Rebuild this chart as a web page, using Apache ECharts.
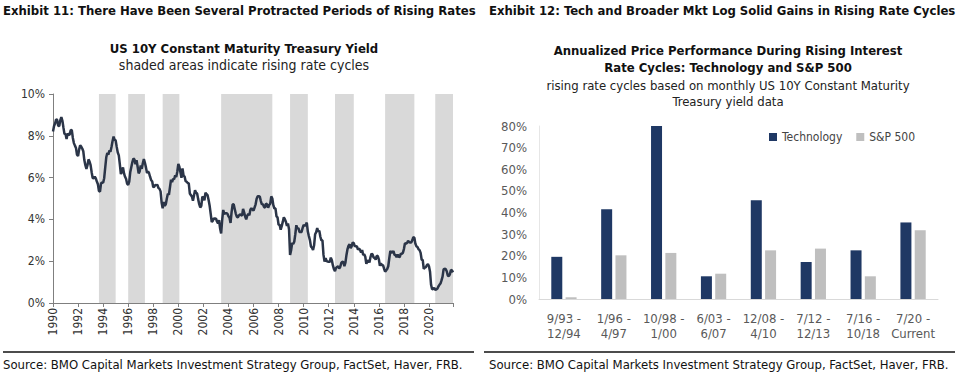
<!DOCTYPE html>
<html>
<head>
<meta charset="utf-8">
<script src="https://cdn.jsdelivr.net/npm/echarts@6/dist/echarts.min.js"></script>
<style>
html,body{margin:0;padding:0;background:#fff;}
#c{width:959px;height:376px;}
</style>
</head>
<body>
<div id="c"></div>
<script>
// ---------- DATA ----------
const yieldStartYear = 1990; // monthly values starting Jan 1990
const yieldMonthly = [
 8.21,8.47,8.59,8.79,8.76,8.48,8.47,8.75,8.89,8.72,8.39,8.08,
 8.09,7.85,8.11,8.04,8.07,8.28,8.27,7.90,7.65,7.53,7.42,7.09,
 7.03,7.34,7.54,7.48,7.39,7.26,6.84,6.59,6.42,6.59,6.87,6.77,
 6.60,6.26,5.98,5.97,6.04,5.96,5.81,5.68,5.36,5.33,5.72,5.77,
 5.75,5.97,6.48,6.97,7.18,7.10,7.30,7.24,7.46,7.74,7.96,7.81,
 7.78,7.47,7.20,7.06,6.63,6.17,6.28,6.49,6.20,6.04,5.93,5.71,
 5.65,5.81,6.27,6.51,6.74,6.91,6.87,6.64,6.83,6.53,6.20,6.30,
 6.58,6.42,6.69,6.89,6.71,6.49,6.22,6.30,6.21,6.03,5.88,5.81,
 5.54,5.57,5.65,5.64,5.65,5.50,5.46,5.34,4.81,4.53,4.83,4.65,
 4.72,5.00,5.23,5.18,5.54,5.90,5.79,5.94,5.92,6.11,6.03,6.28,
 6.66,6.52,6.26,5.99,6.44,6.10,6.05,5.83,5.80,5.74,5.72,5.24,
 5.16,5.10,4.89,5.14,5.39,5.28,5.24,4.97,4.73,4.57,4.65,5.09,
 5.04,4.91,5.28,5.21,5.16,4.93,4.65,4.26,3.87,3.94,4.05,4.03,
 4.05,3.90,3.81,3.96,3.57,3.33,3.98,4.45,4.27,4.29,4.30,4.27,
 4.15,4.08,3.83,4.35,4.72,4.73,4.50,4.28,4.13,4.10,4.19,4.23,
 4.22,4.17,4.50,4.34,4.14,4.00,4.18,4.26,4.20,4.46,4.54,4.47,
 4.42,4.57,4.72,4.99,5.11,5.11,5.09,4.88,4.72,4.73,4.60,4.56,
 4.76,4.72,4.56,4.69,4.75,5.10,5.00,4.67,4.52,4.53,4.15,4.10,
 3.74,3.74,3.51,3.68,3.88,4.10,4.01,3.89,3.69,3.81,3.53,2.30,
 2.52,2.87,2.82,2.93,3.29,3.72,3.56,3.59,3.40,3.39,3.40,3.59,
 3.73,3.69,3.73,3.85,3.42,3.20,3.01,2.70,2.65,2.54,2.76,3.29,
 3.39,3.58,3.41,3.46,3.17,3.00,3.00,2.30,1.98,2.15,2.01,1.98,
 1.97,1.97,2.17,2.05,1.80,1.62,1.53,1.68,1.72,1.75,1.65,1.72,
 1.91,1.98,1.96,1.76,1.93,2.30,2.58,2.74,2.81,2.62,2.72,2.90,
 2.86,2.71,2.72,2.71,2.56,2.60,2.54,2.42,2.53,2.30,2.33,2.21,
 1.88,1.98,2.04,1.94,2.20,2.36,2.32,2.17,2.17,2.07,2.26,2.24,
 2.09,1.78,1.89,1.81,1.81,1.64,1.50,1.56,1.63,1.76,2.14,2.49,
 2.43,2.42,2.48,2.30,2.30,2.19,2.32,2.21,2.20,2.36,2.35,2.40,
 2.58,2.86,2.84,2.87,2.98,2.91,2.89,2.89,3.00,3.15,3.12,2.83,
 2.71,2.68,2.57,2.53,2.40,2.07,2.06,1.63,1.70,1.71,1.81,1.86,
 1.76,1.50,0.87,0.66,0.67,0.73,0.62,0.65,0.68,0.79,0.87,0.93,
 1.08,1.26,1.61,1.64,1.62,1.52,1.32,1.28,1.37,1.58,1.56,1.47
];
const yieldTicks = [0,2,4,6,8,10];

const cycleStart = ['9/93','1/96','10/98','6/03','12/08','7/12','7/16','7/20'];
const cycleEnd   = ['12/94','4/97','1/00','6/07','4/10','12/13','10/18','Current'];
const techPerf = [19.5, 41.5, 80.1, 10.5, 45.7, 17.1, 22.5, 35.4];
const spxPerf  = [0.8, 20.2, 21.3, 11.7, 22.5, 23.3, 10.5, 31.8];
const perfTicks = [0,10,20,30,40,50,60,70,80];

// ---------- BUILD ----------
const yieldData = yieldMonthly.map((v,i)=>[yieldStartYear + i/12, v]);
const lastX = yieldData[yieldData.length-1][0];
function toYearStart(s){ const [m,y]=s.split('/').map(Number); const yr = y<50?2000+y:1900+y; return yr+(m-1)/12; }
function toYearEnd(s){ if(s==='Current') return lastX; const [m,y]=s.split('/').map(Number); const yr = y<50?2000+y:1900+y; return yr+m/12; }
const shaded = cycleStart.map((s,i)=>[{xAxis: toYearStart(s)},{xAxis: Math.min(toYearEnd(cycleEnd[i]), lastX)}]);
const categories = cycleStart.map((s,i)=>s+' -\n'+cycleEnd[i]);

const FONT = "'DejaVu Sans Condensed','Open Sans',sans-serif";
const chart = echarts.init(document.getElementById('c'), null, {renderer:'svg'});
chart.setOption({
  animation:false,
  textStyle:{fontFamily:FONT},
  title:[
    {text:'Exhibit 11: There Have Been Several Protracted Periods of Rising Rates', left:3, top:4, padding:0,
     textStyle:{fontSize:13, fontWeight:'bold', color:'#111', fontFamily:FONT}},
    {text:'Exhibit 12: Tech and Broader Mkt Log Solid Gains in Rising Rate Cycles', left:489, top:4, padding:0,
     textStyle:{fontSize:13, fontWeight:'bold', color:'#111', fontFamily:FONT}},
    {text:'US 10Y Constant Maturity Treasury Yield', left:239, top:37, textAlign:'center',
     subtext:'shaded areas indicate rising rate cycles', itemGap:3,
     textStyle:{fontSize:13, fontWeight:'bold', color:'#111', fontFamily:FONT},
     subtextStyle:{fontSize:14, color:'#222', fontFamily:FONT}},
    {text:'Annualized Price Performance During Rising Interest\nRate Cycles: Technology and S&P 500', left:723, top:37, textAlign:'center',
     subtext:'rising rate cycles based on monthly US 10Y Constant Maturity\nTreasury yield data', itemGap:1,
     textStyle:{fontSize:13, fontWeight:'bold', color:'#111', lineHeight:17, fontFamily:FONT},
     subtextStyle:{fontSize:13, color:'#222', lineHeight:16, fontFamily:FONT}}
  ],
  legend:{
    data:['Technology','S&P 500'], left:764, top:126, itemWidth:8, itemHeight:8, itemGap:14,
    icon:'rect', textStyle:{fontSize:12, color:'#444', fontFamily:FONT}
  },
  grid:[
    {left:53, top:94, width:400, height:209},
    {left:539, top:126, width:399, height:173}
  ],
  xAxis:[
    {type:'value', gridIndex:0, min:yieldStartYear, max:lastX, interval:2,
     axisLine:{show:true, lineStyle:{color:'#7f7f7f'}},
     axisTick:{show:true, length:4, lineStyle:{color:'#7f7f7f'}},
     splitLine:{show:false},
     axisLabel:{rotate:90, fontSize:12, color:'#333', margin:5, fontFamily:FONT,
       formatter:function(v){ return (v % 1 === 0) ? String(v) : ''; }}},
    {type:'category', gridIndex:1, data:categories,
     axisLine:{show:true, lineStyle:{color:'#d9d9d9'}},
     axisTick:{show:false},
     axisLabel:{fontSize:13, color:'#595959', lineHeight:15, margin:12, interval:0, fontFamily:FONT}}
  ],
  yAxis:[
    {type:'value', gridIndex:0, min:yieldTicks[0], max:yieldTicks[yieldTicks.length-1], interval:2,
     axisLine:{show:true, lineStyle:{color:'#7f7f7f'}},
     axisTick:{show:true, length:4, lineStyle:{color:'#7f7f7f'}},
     splitLine:{show:false},
     axisLabel:{fontSize:12, color:'#333', margin:8, fontFamily:FONT, formatter:v=>v+'%'}},
    {type:'value', gridIndex:1, min:perfTicks[0], max:perfTicks[perfTicks.length-1], interval:10,
     axisLine:{show:true, lineStyle:{color:'#e6e6e6'}},
     axisTick:{show:false},
     splitLine:{show:false},
     axisLabel:{fontSize:13, color:'#595959', margin:12, fontFamily:FONT, formatter:v=>v+'%'}}
  ],
  series:[
    {name:'shade', type:'line', xAxisIndex:0, yAxisIndex:0, data:[], z:1, silent:true,
     markArea:{silent:true, itemStyle:{color:'#d9d9d9'}, data:shaded}},
    {name:'10Y', type:'line', xAxisIndex:0, yAxisIndex:0, data:yieldData, z:3,
     showSymbol:false, symbol:'none', lineStyle:{color:'#2b3548', width:2.5}},
    {name:'Technology', type:'bar', xAxisIndex:1, yAxisIndex:1, data:techPerf,
     barWidth:11, barGap:'30%', itemStyle:{color:'#1f3864'}},
    {name:'S&P 500', type:'bar', xAxisIndex:1, yAxisIndex:1, data:spxPerf,
     barWidth:11, itemStyle:{color:'#bfbfbf'}}
  ],
  graphic:[
    {type:'line', shape:{x1:3,y1:352,x2:474,y2:352}, style:{stroke:'#111', lineWidth:1.5}},
    {type:'line', shape:{x1:484,y1:352,x2:955,y2:352}, style:{stroke:'#111', lineWidth:1.5}},
    {type:'text', left:3, top:358, style:{text:'Source: BMO Capital Markets Investment Strategy Group, FactSet, Haver, FRB.', fontSize:13, fill:'#111', fontFamily:FONT}},
    {type:'text', left:489, top:358, style:{text:'Source: BMO Capital Markets Investment Strategy Group, FactSet, Haver, FRB.', fontSize:13, fill:'#111', fontFamily:FONT}}
  ]
});
</script>
</body>
</html>
